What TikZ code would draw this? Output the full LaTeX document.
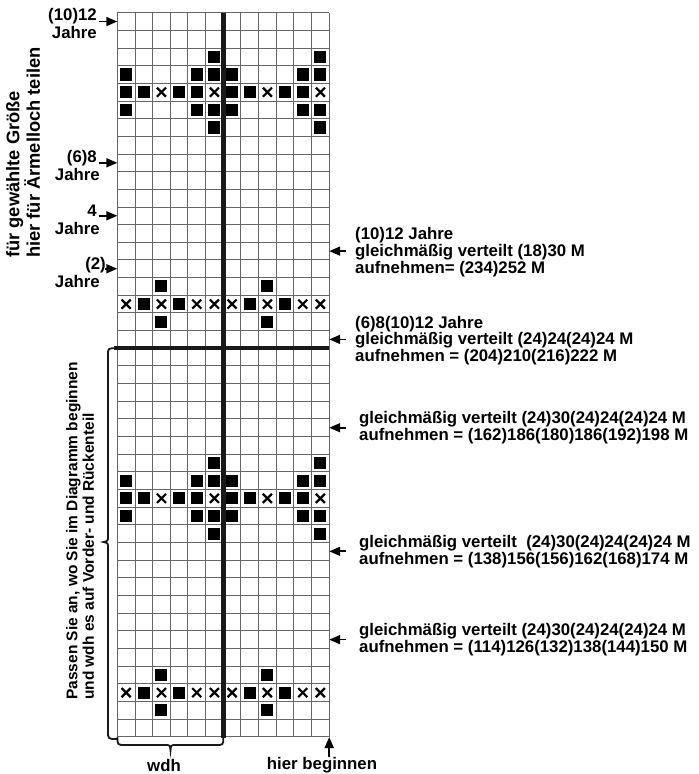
\documentclass[tikz,border=0pt]{standalone}
\usepackage{fontspec}
\setmainfont{Liberation Sans}
\usetikzlibrary{arrows.meta}
\newcommand\cw{17.66}
\newcommand\gx{117.3}
\newcommand\gy{12.7}
\newcommand\mysq[2]{\fill[black] ({\gx+(#1)*\cw+2.8},{\gy+(#2)*\cw+2.8}) rectangle ++({\cw-5.6},{\cw-5.6});}
\newcommand\myx[2]{\draw[xmark] ({\gx+(#1)*\cw+4.3},{\gy+(#2)*\cw+4.3}) -- ++({\cw-8.6},{\cw-8.6}) ({\gx+(#1)*\cw+4.3},{\gy+(#2+1)*\cw-4.3}) -- ++({\cw-8.6},{-\cw+8.6});}
\begin{document}
\begin{tikzpicture}[x=1pt,y=-1pt,
  gridline/.style={draw=black!60,line width=0.9pt},
  xmark/.style={line width=2.2pt,draw=black},
  thickrule/.style={line width=4.5pt,draw=black!90},
  arr/.style={line width=1.7pt,-{Triangle[length=11pt,width=9pt]}},
  lbl/.style={font=\bfseries\fontsize{16.8}{15.5}\selectfont,inner sep=0pt,align=left},
  bracel/.style={line width=1.8pt,draw=black!90}
]
\useasboundingbox (0,0) rectangle (699,774);
% grid
\foreach \i in {0,...,12} \draw[gridline] ({\gx+\i*\cw},\gy) -- ({\gx+\i*\cw},{\gy+41*\cw});
\foreach \j in {0,...,41} \draw[gridline] (\gx,{\gy+\j*\cw}) -- ({\gx+12*\cw},{\gy+\j*\cw});
% motif A
\foreach \R in {2,25}{
  \foreach \c in {5,11} {\mysq{\c}{\R} \mysq{\c}{\R+4}}
  \foreach \c in {0,4,5,6,10,11} {\mysq{\c}{\R+1} \mysq{\c}{\R+3}}
  \foreach \c in {0,1,3,4,6,7,9,10} {\mysq{\c}{\R+2}}
  \foreach \c in {2,5,8,11} {\myx{\c}{\R+2}}
}
% motif B
\foreach \R in {15,37}{
  \foreach \c in {2,8} {\mysq{\c}{\R} \mysq{\c}{\R+2}}
  \foreach \c in {1,3,7,9} {\mysq{\c}{\R+1}}
  \foreach \c in {0,2,4,5,6,8,10,11} {\myx{\c}{\R+1}}
}
% thick rules
\draw[thickrule] ({\gx+6*\cw},\gy) -- ({\gx+6*\cw},738);
\draw[thickrule,line width=4pt] (114,{\gy+19*\cw}) -- ({\gx+12*\cw},{\gy+19*\cw});
% left arrows
\coordinate (L0) at (\gx,{\gy+0.5*\cw});
\coordinate (L8) at (\gx,{\gy+8.5*\cw});
\coordinate (L11) at (\gx,{\gy+11.5*\cw});
\coordinate (L14) at (\gx,{\gy+14.5*\cw});
\node[lbl,anchor=east] (n0) at (97,{\gy+0.5*\cw-5}) {(10)12};
\node[lbl,anchor=east] (j0) at (97,{\gy+0.5*\cw+11}) {Jahre};
\node[lbl,anchor=east] (n8) at (97,{\gy+8.5*\cw-5}) {(6)8};
\node[lbl,anchor=east] (j8) at (100,{\gy+8.5*\cw+12}) {Jahre};
\node[lbl,anchor=east] (n11) at (97,{\gy+11.5*\cw-5}) {4};
\node[lbl,anchor=east] (j11) at (100,{\gy+11.5*\cw+13}) {Jahre};
\node[lbl,anchor=east] (n14) at (106,{\gy+14.5*\cw-4}) {(2)};
\node[lbl,anchor=east] (j14) at (100,{\gy+14.5*\cw+13}) {Jahre};
\draw[arr] (n0.east |- L0) ++(1.5,0) -- (L0);
\draw[arr] (n8.east |- L8) ++(1.5,0) -- (L8);
\draw[arr] (n11.east |- L11) ++(1.5,0) -- (L11);
\draw[arr] (n14.east |- L14) ++(-1,0) -- (L14);
% right arrows and labels
\foreach \r/\nm in {13/A,18/B,23/C,30/D,35/E}{
  \coordinate (R\nm) at ({\gx+12*\cw},{\gy+(\r+0.5)*\cw});
  \coordinate (T\nm) at ({\gx+12*\cw+17},{\gy+(\r+0.5)*\cw});
  \draw[arr] (T\nm) -- (R\nm);
}
\node[lbl,anchor=west] (tA) at (355,{\gy+13.5*\cw+1}) {(10)12 Jahre\\gleichmäßig verteilt (18)30 M\\aufnehmen= (234)252 M};
\node[lbl,anchor=west] (tB) at (355,{\gy+18.5*\cw+1}) {(6)8(10)12 Jahre\\gleichmäßig verteilt (24)24(24)24 M\\aufnehmen = (204)210(216)222 M};
\node[lbl,anchor=west] (tC) at (359,{\gy+23.5*\cw}) {gleichmäßig verteilt (24)30(24)24(24)24 M\\aufnehmen = (162)186(180)186(192)198 M};
\node[lbl,anchor=west] (tD) at (359,{\gy+30.5*\cw}) {gleichmäßig verteilt\ \ (24)30(24)24(24)24 M\\aufnehmen = (138)156(156)162(168)174 M};
\node[lbl,anchor=west] (tE) at (359,{\gy+35.5*\cw}) {gleichmäßig verteilt (24)30(24)24(24)24 M\\aufnehmen = (114)126(132)138(144)150 M};
% rotated texts
\node[lbl,rotate=90,anchor=west,font=\bfseries\fontsize{18.3}{15.5}\selectfont] (rot1) at (23,258) {für gewählte Größe\\hier für Ärmelloch teilen};
\node[lbl,rotate=90,anchor=west,font=\bfseries\fontsize{15.5}{16.5}\selectfont] (rot2) at (80,700) {Passen Sie an, wo Sie im Diagramm beginnen\\und wdh es auf Vorder- und Rückenteil};
% braces
\draw[bracel] (116,{\gy+19*\cw}) .. controls (108,{\gy+19*\cw}) .. (108,355) -- (108,536) .. controls (108,541) .. (103.5,542) .. controls (108,543) .. (108,548) -- (108,731) .. controls (108,739) .. (117,739);
\draw[bracel] (117.5,736.8) .. controls (117.5,745) .. (125,745) -- (165,745) .. controls (170,745) .. (170.5,750.5) .. controls (171,745) .. (176,745) -- (216,745) .. controls (223.3,745) .. (223.3,737);
% bottom
\coordinate (start) at ({\gx+12*\cw},737);
\node[lbl,anchor=center] (wdh) at (164,765) {wdh};
\node[lbl,anchor=center] (hb) at (322,765) {hier beginnen};
\draw[arr] ({\gx+12*\cw},757) -- (start);
\end{tikzpicture}
\end{document}
